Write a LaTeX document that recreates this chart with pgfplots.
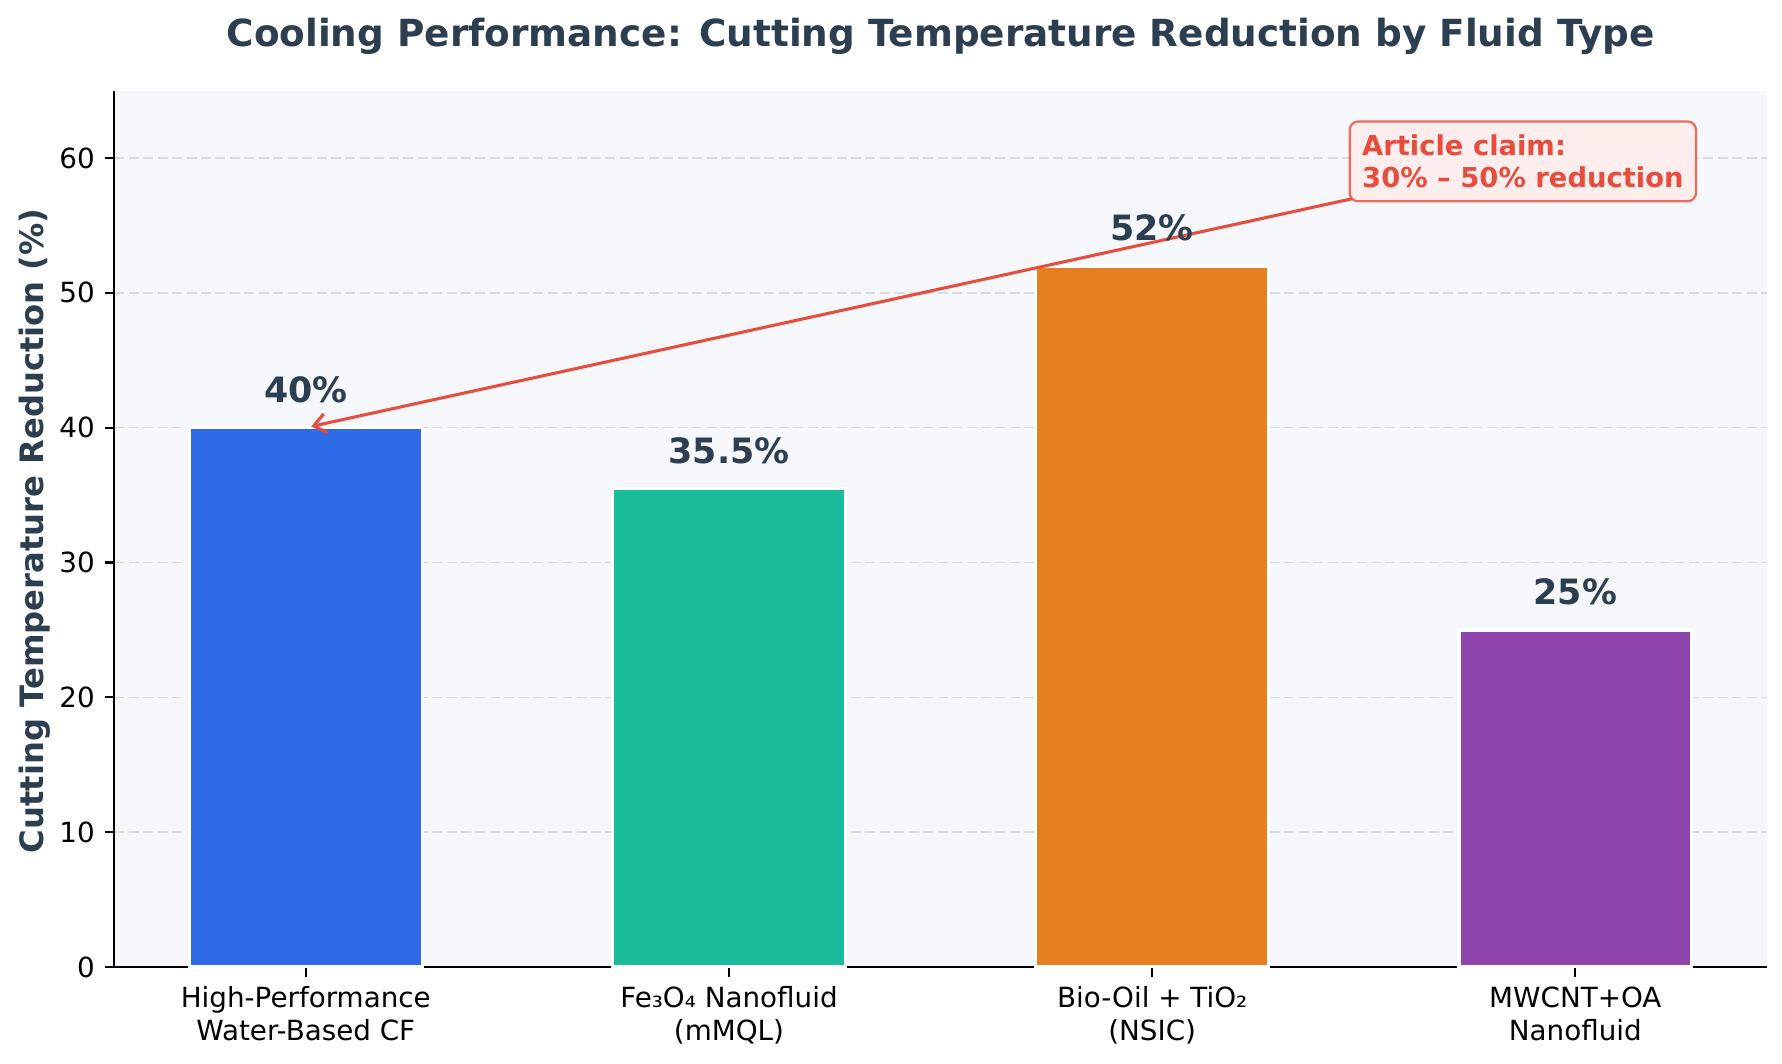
\documentclass[border=0pt]{standalone}
\usepackage{fontspec}
\setmainfont{DejaVu Sans}
\usepackage{pgfplots}
\pgfplotsset{compat=1.18}
\usetikzlibrary{arrows.meta}
\definecolor{bgc}{HTML}{F5F7FA}
\definecolor{titlec}{HTML}{2C3E50}
\definecolor{c1}{HTML}{2E6BE6}
\definecolor{c2}{HTML}{1ABC9C}
\definecolor{c3}{HTML}{E67E22}
\definecolor{c4}{HTML}{8E44AD}
\definecolor{annred}{HTML}{E74C3C}
\definecolor{boxfill}{HTML}{FDEDEC}
\definecolor{gridc}{HTML}{D8DCE1}
\begin{document}
\begin{tikzpicture}
\path[use as bounding box] (0,0) rectangle (641.52pt,382.68pt);
\begin{axis}[
  at={(41.15pt,34.56pt)}, anchor=south west,
  scale only axis, width=594.9pt, height=315.5pt,
  xmin=-0.4525, xmax=3.4525, ymin=0, ymax=65,
  axis background/.style={fill=bgc},
  axis x line*=bottom, axis y line*=left,
  axis line style={-, line width=0.8pt, black},
  ytick={0,10,...,60},
  xtick={0,1,2,3},
  xticklabels={High-Performance\\Water-Based CF, Fe₃O₄ Nanofluid\\(mMQL), Bio-Oil + TiO₂\\(NSIC), MWCNT+OA\\Nanofluid},
  xticklabel style={align=center, font=\fontsize{10}{11.9}\selectfont},
  yticklabel style={font=\fontsize{10}{12}\selectfont},
  tick align=outside, major tick length=3.5pt,
  tick style={black, line width=0.8pt},
  ymajorgrids, grid style={gridc, dash pattern=on 3.6pt off 1.6pt, line width=0.5pt},
  /pgf/number format/assume math mode=true,
  ybar, bar width=0.55, bar shift=0pt,
  nodes near coords={\pgfmathprintnumber{\pgfplotspointmeta}\%},
  every node near coord/.append style={font=\bfseries\fontsize{12.55}{14}\selectfont, text=titlec, inner sep=0pt, yshift=8.2pt},
]
\addplot[fill=c1, draw=white, line width=1.2pt] coordinates {(0,40)};
\addplot[fill=c2, draw=white, line width=1.2pt] coordinates {(1,35.5)};
\addplot[fill=c3, draw=white, line width=1.2pt] coordinates {(2,52)};
\addplot[fill=c4, draw=white, line width=1.2pt] coordinates {(3,25)};
\draw[annred, line width=1.1pt, -{Straight Barb[length=4.5pt,width=7pt]}, shorten >=2pt] (axis cs:2.876,59.75) -- (axis cs:0,40);
\node[fill=boxfill, draw=annred, draw opacity=0.8, rounded corners=3pt, line width=0.8pt, inner xsep=4.5pt, inner ysep=4.8pt, align=left, font=\bfseries\fontsize{9.85}{11.5}\selectfont, text=annred] at (axis cs:2.876,59.75) {Article claim:\\30\% – 50\% reduction};
\end{axis}
\node[rotate=90, anchor=base, font=\bfseries\fontsize{11.6}{14}\selectfont, text=titlec] at (15.6pt,191.6pt) {Cutting Temperature Reduction (\%)};
\node[anchor=base, font=\bfseries\fontsize{13.45}{16}\selectfont, text=titlec] at (338.6pt,366.1pt) {Cooling Performance: Cutting Temperature Reduction by Fluid Type};
\end{tikzpicture}
\end{document}
